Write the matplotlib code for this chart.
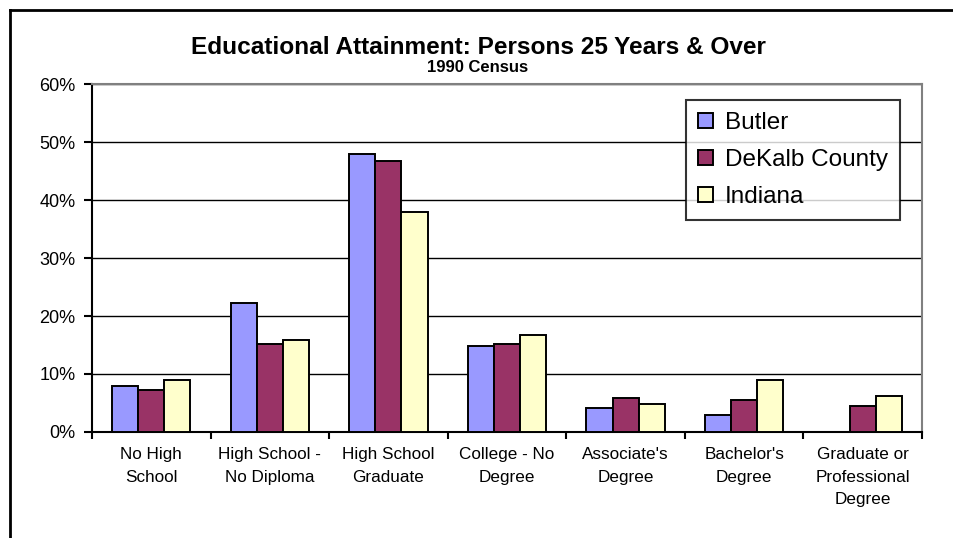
import matplotlib
matplotlib.use("Agg")
import matplotlib.pyplot as plt
from matplotlib.lines import Line2D
from matplotlib.ticker import FuncFormatter, FixedLocator
import numpy as np

plt.rcParams['font.family'] = ['Liberation Sans', 'DejaVu Sans']

categories = ["No High\nSchool", "High School -\nNo Diploma", "High School\nGraduate",
              "College - No\nDegree", "Associate's\nDegree", "Bachelor's\nDegree",
              "Graduate or\nProfessional\nDegree"]
series_names = ["Butler", "DeKalb County", "Indiana"]
butler = [7.9, 22.3, 47.9, 14.8, 4.1, 3.0, 0.0]
dekalb = [7.2, 15.1, 46.8, 15.1, 5.8, 5.5, 4.4]
indiana = [8.9, 15.8, 37.9, 16.8, 4.8, 9.0, 6.2]
colors = ["#9999FF", "#993366", "#FFFFCC"]
yticks = [0, 10, 20, 30, 40, 50, 60]

W, H = 954, 538
fig = plt.figure(figsize=(W/100, H/100), dpi=100)
ax = fig.add_axes([92/W, 1-432/H, (922-92)/W, (432-84)/H])

x = np.arange(len(categories))
bw = 0.22
for i, (vals, name, c) in enumerate(zip([butler, dekalb, indiana], series_names, colors)):
    ax.bar(x + (i-1)*bw, vals, width=bw, color=c, edgecolor="black", linewidth=1.4,
           label=name, zorder=3)

ax.set_xlim(-0.5, len(categories)-0.5)
ax.set_ylim(0, 60)
ax.set_yticks(yticks)
ax.yaxis.set_major_formatter(FuncFormatter(lambda v, p: f"{int(v)}%"))
ax.yaxis.grid(True, color="black", linewidth=1.0, zorder=0)
ax.set_axisbelow(True)

ax.set_xticks(x)
ax.set_xticklabels(categories, fontsize=12.3, linespacing=1.62)
ax.tick_params(axis='x', length=0, pad=11)
ax.xaxis.set_minor_locator(FixedLocator(np.arange(-0.5, len(categories), 1.0)))
ax.tick_params(axis='x', which='minor', length=5, width=1.5, direction='out')
ax.tick_params(axis='y', length=6, width=1.5, direction='out', labelsize=13, pad=6)

for s in ['top', 'right']:
    ax.spines[s].set_color("#808080")
    ax.spines[s].set_linewidth(1.5)
for s in ['left', 'bottom']:
    ax.spines[s].set_color("black")
    ax.spines[s].set_linewidth(1.5)

fig.text(478/W, 1-47/H, "Educational Attainment: Persons 25 Years & Over",
         ha='center', va='center', fontsize=17.6, fontweight='bold')
fig.text(478/W, 1-68/H, "1990 Census", ha='center', va='center',
         fontsize=12, fontweight='bold')

leg = ax.legend(loc='upper left', bbox_to_anchor=((686-92)/(922-92), 1-(100-84)/(432-84)),
                fontsize=17.5, frameon=True, fancybox=False, edgecolor="black",
                handlelength=0.6, handleheight=0.6, handletextpad=0.5,
                borderpad=0.5, labelspacing=0.62, borderaxespad=0)
leg.get_frame().set_linewidth(1.5)
leg.set_zorder(5)

# outer chart frame
fig.add_artist(Line2D([10/W, 10/W], [0, 1-10/H], color="black", linewidth=2))
fig.add_artist(Line2D([10/W, 1], [1-10/H, 1-10/H], color="black", linewidth=2))

fig.savefig("out.png", dpi=100)
